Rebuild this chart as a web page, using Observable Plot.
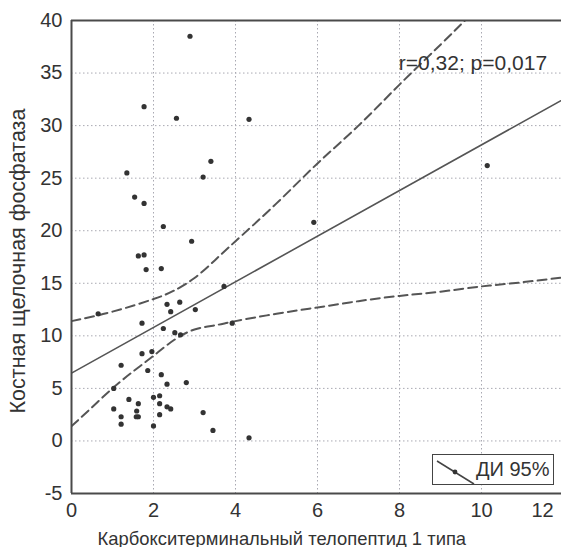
<!DOCTYPE html>
<html><head><meta charset="utf-8">
<script src="https://cdn.jsdelivr.net/npm/d3@7"></script>
<script src="https://cdn.jsdelivr.net/npm/@observablehq/plot@0.6"></script>
<style>
body{margin:0;background:#fff;}
#wrap{width:561px;height:547px;overflow:hidden;position:relative;background:#fff;}
#wrap > svg{max-width:none !important;display:block;}
#legend{position:absolute;left:432px;top:454px;width:120px;height:29px;border:1px solid #444;background:#fff;
  font-family:"Liberation Sans",Arial,sans-serif;font-size:20px;color:#333;white-space:nowrap;}
#legend svg{position:absolute;left:3px;top:4px;}
#legend span{position:absolute;left:43px;top:3px;}
</style></head><body><div id="wrap"></div>
<script>
// scatter points
const ptX = [2.89,1.77,2.56,4.33,1.35,3.40,3.21,1.54,1.77,2.24,2.93,1.63,1.77,1.82,2.19,3.72,0.65,2.33,2.64,2.42,3.02,1.72,2.24,2.52,2.66,3.92,1.72,1.96,1.21,1.86,2.19,2.33,2.80,1.03,1.40,1.63,2.00,2.15,2.15,1.03,1.59,1.21,1.58,1.63,1.21,2.15,2.33,2.42,2.00,3.21,3.45,4.33,5.91,10.14];
const ptY = [38.5,31.8,30.7,30.6,25.5,26.6,25.1,23.2,22.6,20.4,19.0,17.6,17.7,16.3,16.4,14.7,12.1,13.0,13.2,12.3,12.5,11.2,10.7,10.3,10.1,11.2,8.3,8.5,7.2,6.7,6.3,5.4,5.55,5.0,3.95,3.55,4.15,4.3,3.55,3.05,2.85,2.3,2.3,2.3,1.6,2.5,3.25,3.05,1.43,2.7,1.0,0.3,20.8,26.2];
// regression line
const fitX = [0, 12.5];
const fitY = [6.45, 33.6];
// 95% confidence limits
const ciUpperX = [0, 1, 2, 2.5, 3, 3.5, 4, 5, 6, 7, 8, 9, 9.8];
const ciUpperY = [11.4, 12.3, 13.5, 14.3, 15.5, 17.2, 19.0, 22.6, 26.4, 30.0, 33.9, 37.7, 40.8];
const ciLowerX = [0, 0.5, 1, 1.5, 2, 2.5, 3, 3.5, 4, 5, 6, 7, 8, 9, 10, 11, 12.5];
const ciLowerY = [1.4, 3.2, 5.0, 6.6, 8.1, 9.6, 10.6, 11.0, 11.4, 12.1, 12.7, 13.3, 13.8, 14.2, 14.7, 15.1, 15.8];
// ticks and texts
const xTicks = [0, 2, 4, 6, 8, 10];
const xTickLast = [12];
const yTicks = [-5, 0, 5, 10, 15, 20, 25, 30, 35, 40];
const xGrid = [2, 4, 6, 8, 10, 12];
const yGrid = [0, 5, 10, 15, 20, 25, 30, 35];
const xLabel = "Карбокситерминальный телопептид 1 типа";
const yLabel = "Костная щелочная фосфатаза";
const statText = "r=0,32; p=0,017";
const statPos = {x: 11.6, y: 35.9};
const legendText = "ДИ 95%";

const points = ptX.map((x, i) => ({x, y: ptY[i]}));
const fit = fitX.map((x, i) => ({x, y: fitY[i]}));
const ciU = ciUpperX.map((x, i) => ({x, y: ciUpperY[i]}));
const ciL = ciLowerX.map((x, i) => ({x, y: ciLowerY[i]}));

const ink = "#4a4a4a";
const gridStyle = {stroke: "#a9a9b2", strokeOpacity: 1, strokeWidth: 1, strokeDasharray: "1.5,2.5"};
const fmt = d => String(d);

const chart = Plot.plot({
  width: 590, height: 547,
  marginLeft: 71, marginRight: 6.5, marginTop: 20, marginBottom: 54,
  x: {domain: [0, 12.5]},
  y: {domain: [-5, 40]},
  style: {fontFamily: '"Liberation Sans", Arial, sans-serif', color: "#333", background: "#fff", maxWidth: "none"},
  marks: [
    Plot.gridX(xGrid, gridStyle),
    Plot.gridY(yGrid, gridStyle),
    Plot.line(ciU, {x: "x", y: "y", curve: "natural", stroke: "#555", strokeWidth: 2, strokeDasharray: "9,5", clip: true}),
    Plot.line(ciL, {x: "x", y: "y", curve: "natural", stroke: "#555", strokeWidth: 2, strokeDasharray: "9,5", clip: true}),
    Plot.line(fit, {x: "x", y: "y", stroke: "#555", strokeWidth: 1.6, clip: true}),
    Plot.dot(points, {x: "x", y: "y", r: 2.6, fill: "#333", stroke: "none"}),
    Plot.ruleX([0], {stroke: ink, strokeWidth: 2}),
    Plot.ruleY([-5], {stroke: ink, strokeWidth: 2}),
    Plot.ruleY([40], {stroke: ink, strokeWidth: 2}),
    Plot.axisY(yTicks, {tickSize: 0, tickPadding: 9, fontSize: 20, label: null, tickFormat: fmt}),
    Plot.axisX(xTicks, {tickSize: 0, tickPadding: 9, fontSize: 20, label: null, tickFormat: fmt}),
    Plot.axisX(xTickLast, {tickSize: 0, tickPadding: 9, fontSize: 20, dx: -21, label: null, tickFormat: fmt}),
    Plot.text([statText], {x: () => statPos.x, y: () => statPos.y, text: d => d, textAnchor: "end", fontSize: 21, fill: "#333"}),
    Plot.text([xLabel], {frameAnchor: "bottom-left", text: d => d, textAnchor: "start", lineAnchor: "bottom", dx: 26, dy: 51, fontSize: 18.4, fill: "#333"}),
    Plot.text([yLabel], {frameAnchor: "left", text: d => d, textAnchor: "middle", rotate: -90, dx: -53, dy: 4, fontSize: 21.5, fill: "#333"})
  ]
});
const wrap = document.getElementById("wrap");
wrap.appendChild(chart);

const lg = document.createElement("div");
lg.id = "legend";
lg.innerHTML = '<svg width="40" height="26"><line x1="1" y1="2" x2="38" y2="25" stroke="#444" stroke-width="1.5"/><circle cx="19" cy="13" r="2.4" fill="#333"/></svg><span></span>';
lg.querySelector("span").textContent = legendText;
wrap.appendChild(lg);
</script>
</body></html>
